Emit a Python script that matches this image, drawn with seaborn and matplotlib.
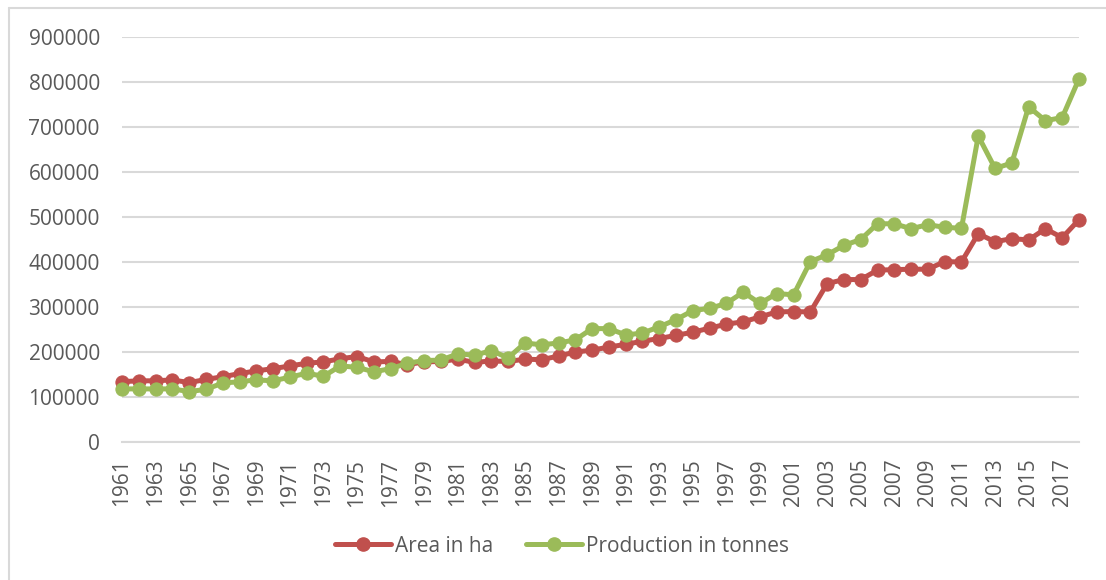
import pandas as pd
import numpy as np
import matplotlib
matplotlib.use("Agg")
import matplotlib.pyplot as plt
from matplotlib.lines import Line2D
import seaborn as sns

sns.set_theme(style="white")
plt.rcParams['font.family'] = ['Open Sans', 'DejaVu Sans']

# Const
area_color = "#C0504D"
prod_color = "#9BBB59"
text_color = "#595959"
grid_color = "#D9D9D9"

# Data
years = list(range(1961, 2019))
area_ha = [134000, 136000, 136000, 138000, 132000, 139000, 145000, 152000, 158000, 163000,
           169000, 175000, 178000, 185000, 190000, 178000, 179000, 172000, 178000, 179000,
           184000, 177000, 180000, 179000, 184000, 183000, 191000, 200000, 204000, 211000,
           217000, 224000, 230000, 237000, 244000, 253000, 262000, 267000, 278000, 289000,
           290000, 289000, 352000, 361000, 361000, 382000, 383000, 384000, 384000, 401000,
           400000, 463000, 445000, 452000, 449000, 474000, 454000, 494000]
prod_t = [118000, 118000, 118000, 118000, 112000, 117000, 131000, 134000, 138000, 136000,
          144000, 153000, 146000, 169000, 166000, 156000, 163000, 175000, 181000, 182000,
          196000, 193000, 203000, 187000, 220000, 216000, 220000, 227000, 252000, 252000,
          238000, 242000, 256000, 272000, 292000, 297000, 308000, 333000, 308000, 330000,
          327000, 401000, 416000, 437000, 450000, 485000, 485000, 474000, 483000, 477000,
          475000, 680000, 608000, 620000, 745000, 714000, 721000, 807000]
yticks = list(range(0, 900001, 100000))
xtick_years = list(range(1961, 2018, 2))

df = pd.DataFrame({"Year": years, "Area in ha": area_ha, "Production in tonnes": prod_t})

fig = plt.figure(figsize=(11.06, 5.8), dpi=100)
ax = fig.add_axes([122 / 1106, 1 - 442 / 580, (1079 - 122) / 1106, (442 - 37) / 580])

line_kw = dict(marker="o", markersize=9.5, linewidth=3.6, clip_on=False, zorder=3)
sns.lineplot(data=df, x="Year", y="Area in ha", ax=ax, color=area_color,
             markeredgecolor=area_color, **line_kw)
sns.lineplot(data=df, x="Year", y="Production in tonnes", ax=ax, color=prod_color,
             markeredgecolor=prod_color, **line_kw)

ax.set_xlim(1961, 2018)
ax.set_ylim(0, 900000)
ax.set_yticks(yticks)
ax.set_yticklabels([str(v) for v in yticks])
ax.set_xticks(xtick_years)
ax.set_xticklabels([str(y) for y in xtick_years], rotation=90)
ax.set_xlabel("")
ax.set_ylabel("")

ax.grid(axis="y", color=grid_color, linewidth=1.5)
ax.grid(axis="x", visible=False)
for s in ["top", "right", "left"]:
    ax.spines[s].set_visible(False)
ax.spines["bottom"].set_color(grid_color)
ax.spines["bottom"].set_linewidth(1.5)
ax.tick_params(axis="y", length=0, pad=16, labelsize=15, labelcolor=text_color)
ax.tick_params(axis="x", length=0, pad=12, labelsize=15, labelcolor=text_color)

handles = [
    Line2D([], [], color=area_color, marker="o", markersize=9.5, linewidth=3.6),
    Line2D([], [], color=prod_color, marker="o", markersize=9.5, linewidth=3.6),
]
fig.legend(handles, ["Area in ha", "Production in tonnes"], loc="center",
           bbox_to_anchor=(0.508, 1 - 546 / 580), ncol=2, frameon=False,
           fontsize=15, labelcolor=text_color, handlelength=2.7,
           handletextpad=0.15, columnspacing=1.6)

# chart border
fig.add_artist(Line2D([8.5 / 1106, 8.5 / 1106], [0, 1 - 8 / 580], color=grid_color,
                      linewidth=1.5, transform=fig.transFigure))
fig.add_artist(Line2D([8.5 / 1106, 1], [1 - 8 / 580, 1 - 8 / 580], color=grid_color,
                      linewidth=1.5, transform=fig.transFigure))

fig.savefig("out.png", dpi=100)
